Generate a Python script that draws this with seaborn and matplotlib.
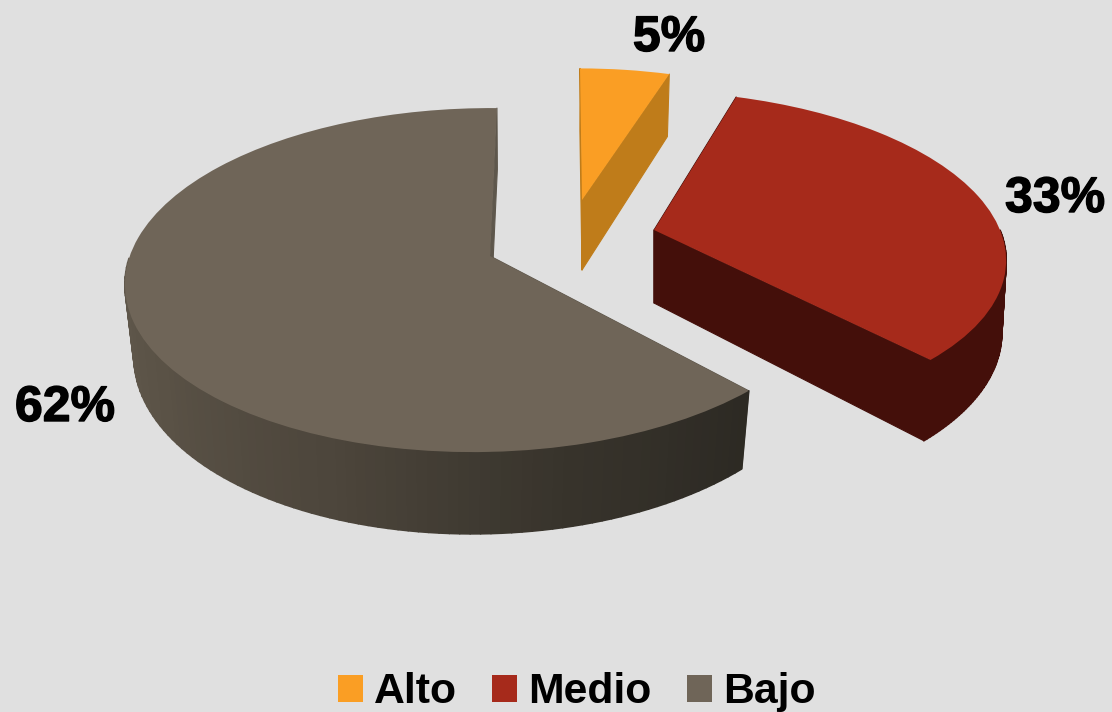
import numpy as np
import seaborn as sns
import matplotlib
matplotlib.use('Agg')
import matplotlib.pyplot as plt
import matplotlib.patheffects as pe
from matplotlib.collections import PolyCollection
from matplotlib.transforms import Transform

categories = ['Alto', 'Medio', 'Bajo']
shares = [5, 33, 62]
share_labels = ['5%', '33%', '62%']

top_colors = ['#FA9E24', '#A62A1B', '#6F6558']
cut_colors = ['#BF7C1A', '#440F0A', '#5E574C']
bajo_side = ['#625A4E', '#5A5246', '#4D463C', '#38342C', '#2C2923']

# each slice was pulled out by hand in the original, so each gets its own view
# cx, cy, rx, ry, k, m, shear
views = [
    (582, 200, 327, 150.0, 0.14, 0.00, -0.015),
    (654, 230, 346, 159.3, 0.146, 0.00, -0.088),
    (490, 256, 353, 168.6, 0.14, 0.02, 0.047),
]
depth = [70, 73, 70]
squeeze = [0.98, 0.99, 0.975]
low_shear = [-0.015, -0.054, 0.047]
label_pos = [(669, 38), (1055, 199), (65, 408)]


class Tilt(Transform):
    input_dims = 2
    output_dims = 2

    def __init__(self, cx, cy, rx, ry, k, m, shear):
        super().__init__()
        self.p = (cx, cy, rx, ry, k, m, shear)

    def transform_non_affine(self, values):
        cx, cy, rx, ry, k, m, shear = self.p
        x, y = np.asarray(values)[:, 0], np.asarray(values)[:, 1]
        d = 1 + k * y + m * x
        up = ry * y / d
        return np.column_stack([cx + rx * x / d + shear * up, cy - up])


def lower_view(view, drop, sq, shear):
    cx, cy, rx, ry, k, m, _ = view
    return (cx, cy + drop, rx * sq, ry * 1.06, k, m, shear)


def draw_sides(ax, wedge, view, low, color, gradient=None):
    top = Tilt(*view)
    bottom = Tilt(*low)
    # radial cut faces
    polys = []
    for t in (wedge.theta1, wedge.theta2):
        a = np.radians(t)
        edge = np.array([[0, 0], [np.cos(a), np.sin(a)]])
        polys.append(np.vstack([top.transform(edge), bottom.transform(edge)[::-1]]))
    ax.add_collection(PolyCollection(polys, facecolors=color, edgecolors=color, linewidths=0.8, zorder=2))
    # outer rim, only the part that faces the viewer
    angles = np.radians(np.linspace(wedge.theta1, wedge.theta2, 151))
    angles = angles[np.sin(angles) < 0]
    if len(angles) < 2:
        return
    rim = np.column_stack([np.cos(angles), np.sin(angles)])
    t_pts, b_pts = top.transform(rim), bottom.transform(rim)
    polys = [np.array([t_pts[i], t_pts[i + 1], b_pts[i + 1], b_pts[i]]) for i in range(len(rim) - 1)]
    if gradient is None:
        colors = [color] * len(polys)
    else:
        ramp = sns.blend_palette(gradient, 256)
        degs = np.degrees(angles[:-1])
        pos = np.clip((degs + 180) / (180 + wedge.theta2), 0, 1)
        colors = [ramp[int(p * 255)] for p in pos]
    ax.add_collection(PolyCollection(polys, facecolors=colors, edgecolors=colors, linewidths=1.2, zorder=3))


sns.set_theme(style='white')
plt.rcParams['font.family'] = ['Liberation Sans', 'DejaVu Sans']

fig = plt.figure(figsize=(11.12, 7.12), dpi=100, facecolor='#E0E0E0')
ax = fig.add_axes([0, 0, 1, 1])

wedges, _ = ax.pie(shares, colors=top_colors, startangle=90, counterclock=False,
                   normalize=True, wedgeprops={'linewidth': 0, 'zorder': 5})
ax.set_aspect('auto')
ax.set_xlim(0, 1112)
ax.set_ylim(712, 0)
ax.axis('off')

for i, w in enumerate(wedges):
    low = lower_view(views[i], depth[i], squeeze[i], low_shear[i])
    draw_sides(ax, w, views[i], low, cut_colors[i], bajo_side if categories[i] == 'Bajo' else None)
    w.set_transform(Tilt(*views[i]) + ax.transData)

for txt, (x, y) in zip(share_labels, label_pos):
    ax.text(x, y, txt, ha='center', va='center', fontsize=36, fontweight='bold', color='black', zorder=6,
            path_effects=[pe.withStroke(linewidth=1.0, foreground='black')])

leg = ax.legend(wedges, categories, ncol=3, loc='lower center', bbox_to_anchor=(0.5185, -0.0005),
                frameon=False, prop={'size': 30.8, 'weight': 'bold'}, handlelength=0.59, handleheight=0.59,
                handletextpad=0.26, columnspacing=0.82, borderpad=0, borderaxespad=0)
for t in leg.get_texts():
    t.set_color('black')

fig.savefig('out.png', dpi=100, facecolor=fig.get_facecolor())
